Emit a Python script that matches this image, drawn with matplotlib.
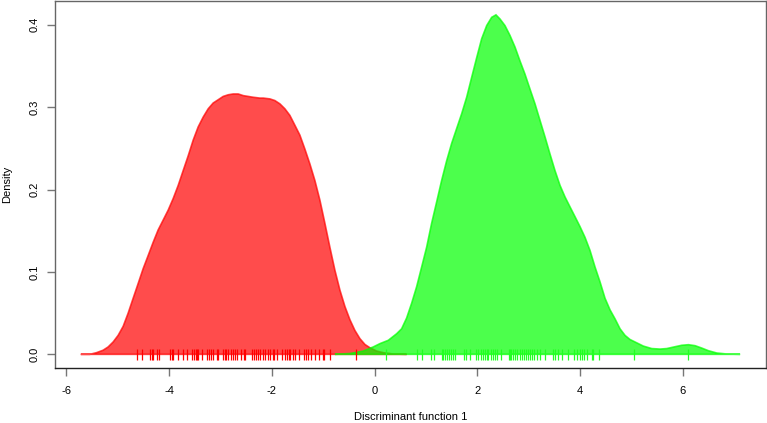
import matplotlib
matplotlib.use("Agg")
import matplotlib.pyplot as plt

plt.rcParams['font.family'] = ['Liberation Sans', 'DejaVu Sans']

# density curve of group 1 (red)
red_x = [-5.718, -5.542, -5.412, -5.283, -5.185, -5.088, -4.991, -4.893, -4.796, -4.699,
         -4.601, -4.504, -4.406, -4.309, -4.212, -4.114, -4.017, -3.920, -3.822, -3.725,
         -3.627, -3.530, -3.433, -3.335, -3.238, -3.141, -3.043, -2.946, -2.848, -2.751,
         -2.654, -2.556, -2.459, -2.362, -2.232, -2.167, -2.037, -1.940, -1.842, -1.745,
         -1.648, -1.550, -1.453, -1.355, -1.258, -1.161, -1.063, -0.966, -0.869, -0.771,
         -0.674, -0.576, -0.479, -0.382, -0.284, -0.187, -0.090, 0.040, 0.170, 0.365, 0.625]
red_y = [0.0, 0.000, 0.002, 0.005, 0.009, 0.015, 0.023, 0.034, 0.050, 0.068,
         0.086, 0.104, 0.120, 0.136, 0.151, 0.163, 0.175, 0.189, 0.205, 0.223,
         0.241, 0.260, 0.276, 0.288, 0.298, 0.305, 0.309, 0.313, 0.315, 0.316,
         0.316, 0.314, 0.313, 0.312, 0.311, 0.311, 0.310, 0.308, 0.304, 0.298,
         0.290, 0.278, 0.266, 0.249, 0.231, 0.211, 0.187, 0.159, 0.130, 0.102,
         0.078, 0.058, 0.042, 0.029, 0.019, 0.012, 0.008, 0.004, 0.002, 0.0004, 0.0]

# density curve of group 2 (green)
green_x = [-0.771, -0.479, -0.219, -0.025, 0.105, 0.267, 0.430, 0.527, 0.624, 0.722,
           0.819, 0.917, 1.014, 1.111, 1.209, 1.306, 1.404, 1.501, 1.598, 1.696,
           1.793, 1.890, 1.988, 2.085, 2.183, 2.280, 2.364, 2.442, 2.539, 2.637,
           2.734, 2.832, 2.929, 3.026, 3.124, 3.221, 3.318, 3.416, 3.513, 3.611,
           3.708, 3.805, 3.903, 4.000, 4.097, 4.195, 4.292, 4.389, 4.487, 4.584,
           4.682, 4.779, 4.876, 4.973, 5.103, 5.233, 5.396, 5.558, 5.688, 5.818,
           5.980, 6.110, 6.240, 6.370, 6.499, 6.662, 6.856, 7.116]
green_y = [0.0, 0.001, 0.004, 0.009, 0.013, 0.017, 0.025, 0.031, 0.044, 0.062,
           0.082, 0.106, 0.130, 0.159, 0.185, 0.211, 0.235, 0.256, 0.274, 0.292,
           0.312, 0.336, 0.360, 0.383, 0.399, 0.409, 0.412, 0.407, 0.399, 0.387,
           0.373, 0.356, 0.340, 0.322, 0.304, 0.284, 0.264, 0.243, 0.223, 0.205,
           0.191, 0.179, 0.167, 0.155, 0.142, 0.126, 0.106, 0.088, 0.068, 0.054,
           0.043, 0.031, 0.023, 0.018, 0.014, 0.010, 0.007, 0.0064, 0.007, 0.0088,
           0.011, 0.0117, 0.0105, 0.0076, 0.0044, 0.0016, 0.0004, 0.0]

# rug values
red_rug = [-4.62, -4.53, -4.37, -4.34, -4.31, -4.24, -4.20, -3.98, -3.95, -3.92,
           -3.82, -3.73, -3.66, -3.56, -3.51, -3.48, -3.46, -3.43, -3.35, -3.27,
           -3.23, -3.19, -3.14, -3.06, -3.04, -2.94, -2.92, -2.89, -2.85, -2.80,
           -2.75, -2.71, -2.67, -2.60, -2.54, -2.52, -2.39, -2.35, -2.30, -2.26,
           -2.22, -2.17, -2.13, -2.08, -2.04, -1.97, -1.95, -1.89, -1.80, -1.74,
           -1.71, -1.67, -1.65, -1.59, -1.55, -1.47, -1.37, -1.34, -1.29, -1.24,
           -1.16, -1.08, -1.01, -0.99, -0.87, -0.36]
green_rug = [0.22, 0.82, 0.92, 1.09, 1.16, 1.31, 1.34, 1.38, 1.42, 1.45,
             1.48, 1.52, 1.57, 1.75, 1.79, 1.86, 1.97, 2.01, 2.07, 2.12,
             2.15, 2.18, 2.21, 2.26, 2.30, 2.34, 2.38, 2.46, 2.61, 2.64,
             2.66, 2.69, 2.73, 2.78, 2.83, 2.88, 2.91, 2.95, 2.99, 3.03,
             3.07, 3.11, 3.16, 3.22, 3.32, 3.47, 3.52, 3.57, 3.64, 3.76,
             3.88, 3.94, 3.99, 4.04, 4.08, 4.13, 4.23, 4.26, 4.36, 5.05, 6.11]

x_ticks = [-6, -4, -2, 0, 2, 4, 6]
y_ticks = [0.0, 0.1, 0.2, 0.3, 0.4]

fig = plt.figure(figsize=(7.67, 4.23), dpi=100)
ax = fig.add_axes([0.0717, 0.130, 0.927, 0.868])

ax.fill(red_x, red_y, facecolor=(1, 0, 0, 0.7), edgecolor=(1, 0, 0, 0.7), lw=1.2)
ax.fill(green_x, green_y, facecolor=(0, 1, 0, 0.7), edgecolor=(0, 1, 0, 0.7), lw=1.2)

ax.vlines(red_rug, -0.0069, 0.0064, colors='#ff0000', lw=0.9)
ax.vlines(green_rug, -0.0069, 0.0064, colors='#22ff22', lw=0.9)

ax.set_xlim(-6.22, 7.62)
ax.set_ylim(-0.0166, 0.429)
ax.set_xticks(x_ticks)
ax.set_xticklabels([str(t) for t in x_ticks])
ax.set_yticks(y_ticks)
ax.set_yticklabels(['%.1f' % t for t in y_ticks], rotation=90, va='center')

for s in ax.spines.values():
    s.set_color('#666666')
    s.set_linewidth(1.0)
ax.spines['bottom'].set_color('#222222')

ax.tick_params(axis='both', direction='out', length=6, width=1, color='#777777',
               labelsize=8)
ax.tick_params(axis='x', pad=7)
ax.tick_params(axis='y', pad=5)

ax.set_xlabel('Discriminant function 1', fontsize=8, va='center')
ax.set_ylabel('Density', fontsize=8, va='center')
ax.xaxis.set_label_coords(0.5, -0.133)
ax.yaxis.set_label_coords(-0.068, 0.5)

fig.savefig('out.png', dpi=100)
